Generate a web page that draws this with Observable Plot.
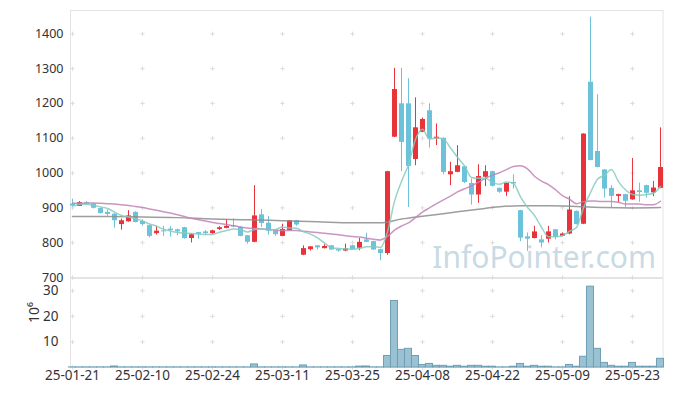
<!DOCTYPE html>
<html><head><meta charset="utf-8">
<script src="https://cdn.jsdelivr.net/npm/d3@7"></script>
<script src="https://cdn.jsdelivr.net/npm/@observablehq/plot@0.6"></script>
<style>
body{margin:0;background:#fff;}
#chart{position:relative;width:673px;height:396px;background:#fff;}
#chart svg{display:block;overflow:visible;}
#chart svg.price{position:relative;z-index:2;}
</style></head><body><div id="chart"></div>
<script>
// trading days (2025)
const dates = ["01-21","01-22","01-23","01-24","01-31","02-03","02-04","02-05","02-06","02-07",
"02-10","02-11","02-12","02-13","02-14","02-17","02-18","02-19","02-20","02-21",
"02-24","02-25","02-26","02-27","02-28","03-04","03-05","03-06","03-07","03-10",
"03-11","03-12","03-13","03-14","03-17","03-18","03-19","03-20","03-21","03-24",
"03-25","03-26","03-27","03-28","03-31","04-01","04-02","04-03","04-04","04-07",
"04-08","04-09","04-10","04-11","04-14","04-15","04-16","04-17","04-18","04-21",
"04-22","04-23","04-24","04-25","04-28","04-29","04-30","05-02","05-07","05-08",
"05-09","05-12","05-13","05-14","05-15","05-16","05-19","05-20","05-21","05-22",
"05-23","05-26","05-27","05-28","05-29"];
const open = [911,904,915,911,898,887,882,852,860,887,861,849,826,834,839,837,843,812,829,831,
826,838,841,849,844,820,801,880,856,834,818,835,863,764,780,791,783,791,780,776,
791,784,808,803,780,769,1103,1199,1199,1039,1117,1179,1098,1100,995,1002,1018,970,937,988,
1004,956,945,973,892,817,812,808,810,837,818,825,890,853,1261,1062,1009,956,933,938,
923,949,964,943,956];
const high = [925,918,918,912,899,894,883,868,892,889,866,850,847,847,846,839,844,826,830,835,
836,846,866,868,846,821,964,895,875,835,853,864,864,791,789,792,794,792,781,796,
792,812,827,804,781,1005,1301,1301,1271,1216,1158,1199,1141,1101,1031,1079,1019,983,1024,1021,
1005,957,971,995,893,828,847,820,847,838,828,932,891,1113,1448,1225,1010,964,939,939,
1042,971,965,976,1130];
const low = [903,904,908,897,882,876,842,836,859,857,847,814,822,818,816,820,810,799,810,822,
824,835,840,843,817,796,800,844,822,818,817,834,847,763,776,779,782,778,773,774,
779,777,800,778,748,764,1102,1004,901,1021,1116,1072,1079,995,964,1001,970,908,913,961,
960,942,933,954,803,775,811,785,799,808,817,823,851,852,1035,1015,928,900,913,901,
922,916,928,932,955];
const close = [905,915,911,899,884,881,863,863,877,858,852,818,833,831,835,831,812,823,824,826,
834,843,847,845,818,801,877,855,833,823,838,863,851,783,788,785,789,779,776,782,
780,801,801,779,769,1004,1240,1088,1019,1130,1154,1098,1103,1002,1004,1021,973,937,990,1004,
962,945,970,969,813,810,831,799,831,815,825,894,852,1112,1036,1016,954,933,938,919,
949,944,942,957,1016];
// volume, millions of shares
const volume = [0.05,0.05,0.05,0.05,0.05,0.05,0.4,0.05,0.05,0.05,0.05,0.05,0.05,0.05,0.05,0.05,0.05,0.05,0.05,0.05,
0.05,0.05,0.05,0.05,0.05,0.05,1.2,0.05,0.05,0.05,0.05,0.05,0.05,0.8,0.05,0.05,0.05,0.05,0.05,0.05,
0.05,0.35,0.4,0.05,0.05,4.5,26,6.9,7.3,4.5,1.0,1.4,0.65,0.65,0.3,0.65,0.3,0.65,0.65,0.3,
0.3,0.05,0.05,0.3,1.4,0.3,0.65,0.3,0.3,0.05,0.05,1.0,0.3,4.2,31.6,7.3,1.8,0.65,0.3,0.3,
1.8,0.3,0.3,0.3,3.4];
// 20-day moving average
const ma20 = [913,913,914,914,913,912,911,909,907,904,901,897,893,889,885,880,875,870,866,
862,858,855,852,849,845,842,841,840,838,836,835,835,835,833,831,829,827,825,823,820,818,816,813,810,808,
818,836,848,857,872,888,900,912,923,934,946,955,963,974,985,994,1001,1010,1019,1021,
1012,991,977,967,952,935,925,912,918,920,919,918,918,916,911,911,911,909,909,919];
// 60-day moving average (at these day indexes)
const ma60Day = [0,5,10,15,20,25,30,35,40,44,47,50,54,58,61,64,68,72,76,80,84];
const ma60Val = [875,875,874,872,868,866,863,860,857,857,868,876,886,896,903,906,906,904,901,900,901];

const priceTicks = [700,800,900,1000,1100,1200,1300,1400];
const volTicks = [10,20,30];
const xTicks = [0,10,20,30,40,50,60,70,80];

const UP = "#e8333b", DOWN = "#6cc2d9";
const data = dates.map((d,i)=>({i, date:d, open:open[i], high:high[i], low:low[i], close:close[i], volume:volume[i], ma20:ma20[i]}));
const ma60 = ma60Day.map((d,k)=>({i:d, v:ma60Val[k]}));
const col = d => d.close >= d.open ? UP : DOWN;

const xDomain = [-2/7, 84.36];
const font = "'Noto Sans', sans-serif";
const gridP = xTicks.flatMap(x => priceTicks.map(y => ({x, y})));
const gridV = xTicks.flatMap(x => [0, ...volTicks].map(y => ({x, y})));

const price = Plot.plot({
  width: 673, height: 278, marginTop: 10, marginBottom: 1, marginLeft: 70, marginRight: 10.5,
  style: {fontFamily: font, fontSize: "12.5px", color: "#333", background: "transparent", overflow: "visible"},
  x: {domain: xDomain, axis: null},
  y: {domain: [700, 1467], ticks: priceTicks, tickFormat: d => String(d), tickSize: 0, tickPadding: 7, label: null},
  marks: [
    Plot.frame({stroke: "#e4e4e4"}),
    Plot.dot(gridP, {x: "x", y: "y", symbol: "plus", r: 1.5, stroke: "#dcdcdc", strokeWidth: 1}),
    Plot.ruleX(data, {x: "i", y1: "low", y2: "high", stroke: col, strokeWidth: 1}),
    Plot.ruleX(data, {x: "i", y1: "open", y2: "close", stroke: col, strokeWidth: 5}),
    Plot.line(ma60, {x: "i", y: "v", stroke: "#8c8c8c", strokeWidth: 1.5, strokeOpacity: 0.85, curve: "monotone-x"}),
    Plot.line(data, {x: "i", y: "ma20", stroke: "#c283b8", strokeWidth: 1.5, strokeOpacity: 0.85, curve: "monotone-x"}),
    Plot.line(data, Plot.windowY({k: 5, anchor: "end", strict: false}, {x: "i", y: "close", stroke: "#86cbbd", strokeWidth: 1.5, strokeOpacity: 0.85, curve: "monotone-x"})),
    Plot.text(["InfoPointer.com"], {text: d => d, frameAnchor: "bottom-right", dx: -7, dy: -10, fontSize: 30, fill: "#b9d0dd", fillOpacity: 0.8, fontFamily: font})
  ]
});
price.classList.add("price");

const vol = Plot.plot({
  width: 673, height: 118, marginTop: 0, marginBottom: 29, marginLeft: 70, marginRight: 10.5,
  style: {fontFamily: font, fontSize: "13.5px", color: "#333", background: "transparent"},
  x: {domain: xDomain, ticks: xTicks, tickFormat: i => "25-" + dates[i], tickSize: 0, tickPadding: 3, label: null},
  y: {domain: [0, 34.8], ticks: volTicks, tickSize: 0, tickPadding: 12, label: null},
  marks: [
    Plot.frame({stroke: "#e4e4e4"}),
    Plot.dot(gridV, {x: "x", y: "y", symbol: "plus", r: 1.5, stroke: "#dcdcdc", strokeWidth: 1}),
    Plot.rectY(data, {x1: d => d.i - 0.5, x2: d => d.i + 0.5, y: "volume", fill: "#9bc2d2", stroke: "#6f9fb4", strokeWidth: 1}),
    Plot.text(["10⁶"], {text: d => d, frameAnchor: "left", dx: -36, rotate: -90, fontSize: 14, fill: "#333", fontFamily: font})
  ]
});

const el = document.getElementById("chart");
el.appendChild(price);
el.appendChild(vol);
</script>
</body></html>
